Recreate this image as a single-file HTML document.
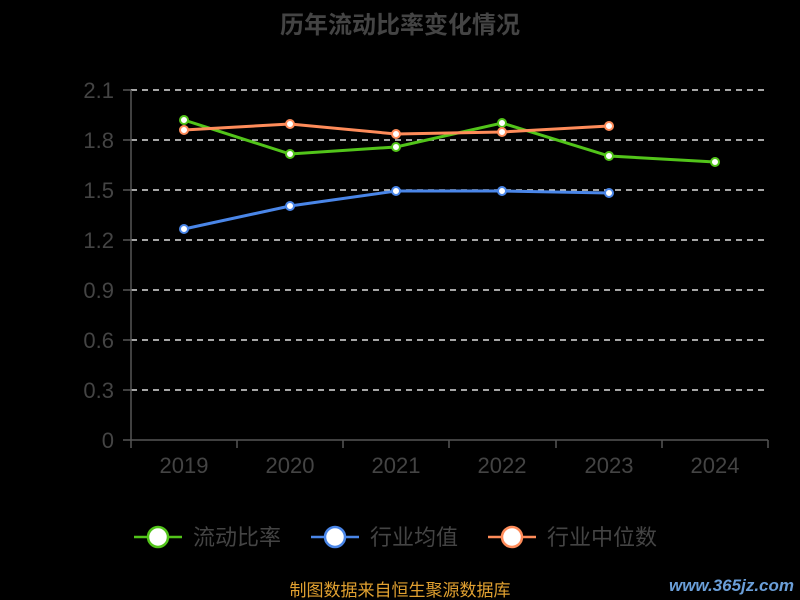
<!DOCTYPE html>
<html><head><meta charset="utf-8"><style>
html,body{margin:0;padding:0;background:#000;width:800px;height:600px;overflow:hidden}
</style></head><body>
<svg width="800" height="600" xmlns="http://www.w3.org/2000/svg" font-family="'Liberation Sans','Noto Sans CJK SC',sans-serif">
<rect width="800" height="600" fill="#000"/>
<text x="400" y="33" text-anchor="middle" font-size="24" font-weight="bold" fill="#444">历年流动比率变化情况</text>
<g stroke="#ddd" stroke-dasharray="6,5" stroke-width="1.5">
<line x1="131" y1="90" x2="768" y2="90"/><line x1="131" y1="140" x2="768" y2="140"/>
<line x1="131" y1="190" x2="768" y2="190"/><line x1="131" y1="240" x2="768" y2="240"/>
<line x1="131" y1="290" x2="768" y2="290"/><line x1="131" y1="340" x2="768" y2="340"/>
<line x1="131" y1="390" x2="768" y2="390"/>
</g>
<g stroke="#555" stroke-width="1.5">
<line x1="131" y1="90" x2="131" y2="440"/><line x1="131" y1="440" x2="768" y2="440"/>
<line x1="131" y1="440" x2="131" y2="448"/><line x1="237" y1="440" x2="237" y2="448"/>
<line x1="343" y1="440" x2="343" y2="448"/><line x1="449" y1="440" x2="449" y2="448"/>
<line x1="556" y1="440" x2="556" y2="448"/><line x1="662" y1="440" x2="662" y2="448"/>
<line x1="768" y1="440" x2="768" y2="448"/>
<line x1="123" y1="90" x2="131" y2="90"/><line x1="123" y1="140" x2="131" y2="140"/><line x1="123" y1="190" x2="131" y2="190"/><line x1="123" y1="240" x2="131" y2="240"/><line x1="123" y1="290" x2="131" y2="290"/><line x1="123" y1="340" x2="131" y2="340"/><line x1="123" y1="390" x2="131" y2="390"/><line x1="123" y1="440" x2="131" y2="440"/>
</g>
<g fill="#444" font-size="22" text-anchor="end">
<text x="114" y="98">2.1</text><text x="114" y="148">1.8</text><text x="114" y="198">1.5</text><text x="114" y="248">1.2</text><text x="114" y="298">0.9</text><text x="114" y="348">0.6</text><text x="114" y="398">0.3</text><text x="114" y="448">0</text>
</g>
<g fill="#444" font-size="22" text-anchor="middle">
<text x="184" y="473">2019</text><text x="290" y="473">2020</text><text x="396" y="473">2021</text><text x="502" y="473">2022</text><text x="609" y="473">2023</text><text x="715" y="473">2024</text>
</g>
<g fill="none" stroke-width="3">
<polyline stroke="#52c41a" points="184,120 290,154 396,147 502,123 609,156 715,162"/>
<polyline stroke="#4a86e8" points="184,229 290,206 396,191 502,191 609,193"/>
<polyline stroke="#ff8c5a" points="184,130 290,124 396,134 502,132 609,126"/>
</g>
<g fill="#fff" stroke-width="2">
<g stroke="#52c41a"><circle cx="184" cy="120" r="4"/><circle cx="290" cy="154" r="4"/><circle cx="396" cy="147" r="4"/><circle cx="502" cy="123" r="4"/><circle cx="609" cy="156" r="4"/><circle cx="715" cy="162" r="4"/></g>
<g stroke="#4a86e8"><circle cx="184" cy="229" r="4"/><circle cx="290" cy="206" r="4"/><circle cx="396" cy="191" r="4"/><circle cx="502" cy="191" r="4"/><circle cx="609" cy="193" r="4"/></g>
<g stroke="#ff8c5a"><circle cx="184" cy="130" r="4"/><circle cx="290" cy="124" r="4"/><circle cx="396" cy="134" r="4"/><circle cx="502" cy="132" r="4"/><circle cx="609" cy="126" r="4"/></g>
</g>
<g stroke-width="2.5" fill="#fff">
<line x1="134" y1="537" x2="182" y2="537" stroke="#52c41a"/><circle cx="158" cy="537" r="10" stroke="#52c41a"/>
<line x1="311" y1="537" x2="359" y2="537" stroke="#4a86e8"/><circle cx="335" cy="537" r="10" stroke="#4a86e8"/>
<line x1="488" y1="537" x2="536" y2="537" stroke="#ff8c5a"/><circle cx="512" cy="537" r="10" stroke="#ff8c5a"/>
</g>
<g fill="#444" font-size="22">
<text x="193" y="545">流动比率</text><text x="370" y="545">行业均值</text><text x="547" y="545">行业中位数</text>
</g>
<text x="400" y="596" text-anchor="middle" font-size="17" fill="#e0a030">制图数据来自恒生聚源数据库</text>
<text x="794" y="591" text-anchor="end" font-size="17" font-weight="bold" font-style="italic" fill="#6a9ed8">www.365jz.com</text>
</svg>
</body></html>
